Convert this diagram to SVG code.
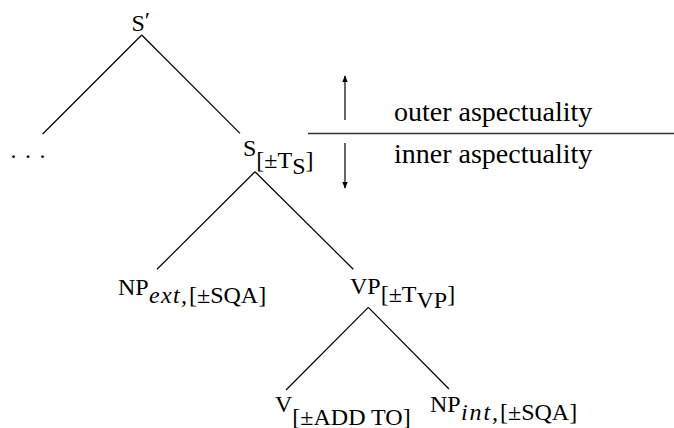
<svg xmlns="http://www.w3.org/2000/svg" width="674" height="428" viewBox="0 0 674 428">
<style>
text{font-family:"Liberation Serif","Times New Roman",serif;font-size:24px;fill:#000}
.it{font-style:italic}
.br{stroke:#000;stroke-width:1.2;fill:none}
.ar{stroke:#000;stroke-width:1.2;fill:none}
</style>
<defs>
<marker id="ah" viewBox="0 0 10 10" refX="9" refY="5" markerWidth="7" markerHeight="9" markerUnits="userSpaceOnUse" orient="auto">
<path d="M0,1 L10,5 L0,9 z" fill="#000"/>
</marker>
</defs>
<rect width="674" height="428" fill="#fff"/>
<g id="connectors">
<line class="br" x1="141.7" y1="35" x2="42.7" y2="134"/>
<line class="br" x1="141.7" y1="35" x2="240" y2="133.3"/>
<line class="br" x1="255" y1="171.7" x2="157" y2="269.3"/>
<line class="br" x1="255" y1="171.7" x2="353.3" y2="269.3"/>
<line class="br" x1="368.3" y1="307.3" x2="286" y2="390"/>
<line class="br" x1="368.3" y1="307.3" x2="449" y2="389"/>
<line class="ar" x1="345" y1="120" x2="345" y2="76" marker-end="url(#ah)"/>
<line class="ar" x1="345" y1="143" x2="345" y2="188" marker-end="url(#ah)"/>
<line x1="308" y1="133.5" x2="674" y2="133.5" stroke="#333" stroke-width="1.3"/>
</g>
<g id="node-Sprime"><text x="131.5" y="30.5">S<tspan dy="-3">′</tspan></text></g>
<g id="node-dots"><text x="10.5" y="158" letter-spacing="1.25">. . .</text></g>
<g id="node-S"><text x="243" y="156">S<tspan dy="12">[±T</tspan><tspan dy="6">S</tspan><tspan dy="-6">]</tspan></text></g>
<g id="node-NPext"><text y="294.5"><tspan x="118">NP</tspan><tspan x="149" dy="8" class="it" textLength="38" lengthAdjust="spacing">ext,</tspan><tspan x="189">[±SQA]</tspan></text></g>
<g id="node-VP"><text x="350" y="293.5">VP<tspan dy="8">[±T</tspan><tspan dy="6">VP</tspan><tspan dy="-6">]</tspan></text></g>
<g id="node-V"><text x="275" y="411.5">V<tspan dy="13">[±ADD TO]</tspan></text></g>
<g id="node-NPint"><text y="411.5"><tspan x="430">NP</tspan><tspan x="461" dy="8" class="it" textLength="37" lengthAdjust="spacing">int,</tspan><tspan x="500">[±SQA]</tspan></text></g>
<g id="labels">
<text x="394" y="121" style="font-size:28px">outer aspectuality</text>
<text x="394" y="163" style="font-size:28px">inner aspectuality</text>
</g>
</svg>
